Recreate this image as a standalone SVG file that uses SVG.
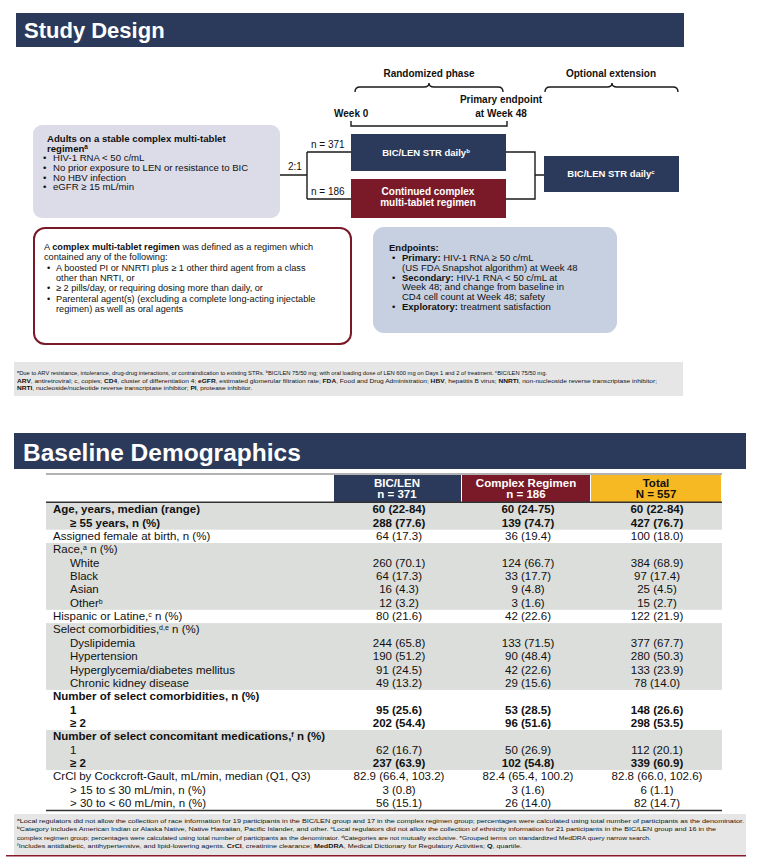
<svg xmlns="http://www.w3.org/2000/svg" width="774" height="868" viewBox="0 0 774 868">
<style>
text { font-family: "Liberation Sans", Arial, sans-serif; fill: #111; }
.b { font-weight: bold; }
.w { fill: #fff; }
.ln { fill: none; stroke: #1a1a1a; stroke-width: 1.4; }
.s10 { font-size: 10px; }
.s96 { font-size: 9.6px; }
.s95 { font-size: 9.5px; }
.s92 { font-size: 9.2px; }
.fn { font-size: 6.2px; }
.tb { font-size: 11.5px; }
.v { text-anchor: middle; }
.c { text-anchor: middle; }
.navy { fill: #2b3a5a; }
.maroon { fill: #7a1a28; }
.gray { fill: #dbdedb; }
</style>
<rect width="774" height="868" fill="#fff"/>

<g id="header-design">
  <rect x="16" y="13" width="668" height="34" class="navy"/>
  <text x="24" y="38" class="b w" font-size="22">Study Design</text>
</g>

<g id="phase-labels">
  <text x="429" y="77" class="b s10 c">Randomized phase</text>
  <text x="611" y="77" class="b s10 c">Optional extension</text>
  <text x="334" y="117" class="b s10">Week 0</text>
  <text x="501" y="103" class="b s10 c">Primary endpoint</text>
  <text x="501" y="117" class="b s10 c">at Week 48</text>
</g>

<g id="eligibility">
  <rect x="33" y="125" width="247" height="93" rx="9" fill="#dcdbe8"/>
  <text x="47" y="141.5" class="b s96">Adults on a stable complex multi-tablet</text>
  <text x="47" y="151.5" class="b s96">regimen<tspan font-size="6.5" baseline-shift="super">a</tspan></text>
  <text x="43" y="161.3" class="s96">•</text><text x="53" y="161.3" class="s96">HIV-1 RNA &lt; 50 c/mL</text>
  <text x="43" y="171" class="s96">•</text><text x="53" y="171" class="s96">No prior exposure to LEN or resistance to BIC</text>
  <text x="43" y="180.7" class="s96">•</text><text x="53" y="180.7" class="s96">No HBV infection</text>
  <text x="43" y="190.4" class="s96">•</text><text x="53" y="190.4" class="s96">eGFR ≥ 15 mL/min</text>
</g>

<g id="arm-biclen">
  <rect x="351" y="134" width="155" height="37" class="navy"/>
  <text x="426" y="156" class="b w s95 c">BIC/LEN STR daily<tspan font-size="6" baseline-shift="super">b</tspan></text>
</g>

<g id="arm-complex">
  <rect x="351" y="179" width="155" height="39" class="maroon"/>
  <text x="428" y="195" class="b w s10 c">Continued complex</text>
  <text x="428" y="206" class="b w s10 c">multi-tablet regimen</text>
</g>

<g id="extension">
  <rect x="544" y="156" width="135" height="36" class="navy"/>
  <text x="611" y="177" class="b w s95 c">BIC/LEN STR daily<tspan font-size="6" baseline-shift="super">c</tspan></text>
</g>

<g id="connectors">
  <path class="ln" d="M355,92 Q355,87 360,87 L424,87 Q429,87 429,83 Q429,87 434,87 L498,87 Q503,87 503,92"/>
  <path class="ln" d="M545,92 Q545,87 550,87 L607,87 Q612,87 612,83 Q612,87 617,87 L673,87 Q678,87 678,92"/>
  <path class="ln" d="M351,121 L351,126 L507,126 L507,121"/>
  <path class="ln" d="M280,175 L307,175 M307,152 L307,199 M307,152 L351,152 M307,199 L351,199"/>
  <path class="ln" d="M506,152 L535,152 L535,199 L506,199 M535,175 L544,175"/>
  <text x="288" y="170" class="s10">2:1</text>
  <text x="311" y="148" class="s10">n = 371</text>
  <text x="311" y="195" class="s10">n = 186</text>
</g>

<g id="definition">
  <rect x="34" y="228" width="317" height="116" rx="11" fill="#fff" stroke="#7a1a28" stroke-width="2"/>
  <text x="44" y="250" class="s92">A <tspan class="b">complex multi-tablet regimen</tspan> was defined as a regimen which</text>
  <text x="44" y="260" class="s92">contained any of the following:</text>
  <text x="47" y="271" class="s92">•</text><text x="56" y="271" class="s92">A boosted PI or NNRTI plus ≥ 1 other third agent from a class</text>
  <text x="56" y="281" class="s92">other than NRTI, or</text>
  <text x="47" y="291" class="s92">•</text><text x="56" y="291" class="s92">≥ 2 pills/day, or requiring dosing more than daily, or</text>
  <text x="47" y="302" class="s92">•</text><text x="56" y="302" class="s92">Parenteral agent(s) (excluding a complete long-acting injectable</text>
  <text x="56" y="312" class="s92">regimen) as well as oral agents</text>
</g>

<g id="endpoints">
  <rect x="373" y="227" width="244" height="106" rx="11" fill="#c6d0e0"/>
  <text x="389" y="251" class="b s95">Endpoints:</text>
  <text x="392" y="261" class="s95">•</text><text x="402" y="261" class="s95"><tspan class="b">Primary:</tspan> HIV-1 RNA ≥ 50 c/mL</text>
  <text x="402" y="270.5" class="s95">(US FDA Snapshot algorithm) at Week 48</text>
  <text x="392" y="280.5" class="s95">•</text><text x="402" y="280.5" class="s95"><tspan class="b">Secondary:</tspan> HIV-1 RNA &lt; 50 c/mL at</text>
  <text x="402" y="290" class="s95">Week 48; and change from baseline in</text>
  <text x="402" y="299.5" class="s95">CD4 cell count at Week 48; safety</text>
  <text x="392" y="309.5" class="s95">•</text><text x="402" y="309.5" class="s95"><tspan class="b">Exploratory:</tspan> treatment satisfaction</text>
</g>

<g id="footnote-design">
  <rect x="14" y="362" width="669" height="34" fill="#e6e6e6"/>
  <text x="17" y="375" class="fn" textLength="530" lengthAdjust="spacingAndGlyphs">ᵃDue to ARV resistance, intolerance, drug-drug interactions, or contraindication to existing STRs. ᵇBIC/LEN 75/50 mg; with oral loading dose of LEN 600 mg on Days 1 and 2 of treatment. ᶜBIC/LEN 75/50 mg.</text>
  <text x="17" y="382.5" class="fn" textLength="640" lengthAdjust="spacingAndGlyphs"><tspan class="b">ARV</tspan>, antiretroviral; c, copies; <tspan class="b">CD4</tspan>, cluster of differentiation 4; <tspan class="b">eGFR</tspan>, estimated glomerular filtration rate; <tspan class="b">FDA</tspan>, Food and Drug Administration; <tspan class="b">HBV</tspan>, hepatitis B virus; <tspan class="b">NNRTI</tspan>, non-nucleoside reverse transcriptase inhibitor;</text>
  <text x="17" y="390" class="fn" textLength="235" lengthAdjust="spacingAndGlyphs"><tspan class="b">NRTI</tspan>, nucleoside/nucleotide reverse transcriptase inhibitor; <tspan class="b">PI</tspan>, protease inhibitor.</text>
</g>

<g id="header-demo">
  <rect x="14" y="433" width="732" height="36" class="navy"/>
  <text x="23" y="461" class="b w" font-size="24.5">Baseline Demographics</text>
</g>

<g id="table">
  <rect x="334" y="475" width="127" height="27" class="navy"/>
  <rect x="462" y="475" width="128" height="27" class="maroon"/>
  <rect x="591" y="475" width="130" height="27" fill="#f6b823"/>
  <text x="397" y="486.5" class="tb b w v">BIC/LEN</text>
  <text x="397" y="498" class="tb b w v">n = 371</text>
  <text x="526" y="486.5" class="tb b w v">Complex Regimen</text>
  <text x="526" y="498" class="tb b w v">n = 186</text>
  <text x="656" y="486.5" class="tb b v">Total</text>
  <text x="656" y="498" class="tb b v">N = 557</text>
  <rect x="46" y="503" width="676" height="26.7" class="gray"/>
  <rect x="46" y="543.05" width="676" height="66.75" class="gray"/>
  <rect x="46" y="623.15" width="676" height="66.75" class="gray"/>
  <rect x="46" y="729.95" width="676" height="40.05" class="gray"/>
  <line x1="46" y1="474" x2="722" y2="474" stroke="#666" stroke-width="1.2"/>
  <line x1="46" y1="502.3" x2="722" y2="502.3" stroke="#333" stroke-width="1.5"/>
  <line x1="46" y1="810.5" x2="722" y2="810.5" stroke="#333" stroke-width="1.5"/>

  <text x="53" y="513.3" class="tb b">Age, years, median (range)</text>
  <text x="399" y="513.3" class="tb b v">60 (22-84)</text><text x="528" y="513.3" class="tb b v">60 (24-75)</text><text x="657" y="513.3" class="tb b v">60 (22-84)</text>
  <text x="70" y="526.65" class="tb b">≥ 55 years, n (%)</text>
  <text x="399" y="526.65" class="tb b v">288 (77.6)</text><text x="528" y="526.65" class="tb b v">139 (74.7)</text><text x="657" y="526.65" class="tb b v">427 (76.7)</text>
  <text x="53" y="540" class="tb">Assigned female at birth, n (%)</text>
  <text x="399" y="540" class="tb v">64 (17.3)</text><text x="528" y="540" class="tb v">36 (19.4)</text><text x="657" y="540" class="tb v">100 (18.0)</text>
  <text x="53" y="553.35" class="tb">Race,<tspan font-size="7" baseline-shift="super">a</tspan> n (%)</text>
  <text x="70" y="566.7" class="tb">White</text>
  <text x="399" y="566.7" class="tb v">260 (70.1)</text><text x="528" y="566.7" class="tb v">124 (66.7)</text><text x="657" y="566.7" class="tb v">384 (68.9)</text>
  <text x="70" y="580.05" class="tb">Black</text>
  <text x="399" y="580.05" class="tb v">64 (17.3)</text><text x="528" y="580.05" class="tb v">33 (17.7)</text><text x="657" y="580.05" class="tb v">97 (17.4)</text>
  <text x="70" y="593.4" class="tb">Asian</text>
  <text x="399" y="593.4" class="tb v">16 (4.3)</text><text x="528" y="593.4" class="tb v">9 (4.8)</text><text x="657" y="593.4" class="tb v">25 (4.5)</text>
  <text x="70" y="606.75" class="tb">Other<tspan font-size="7" baseline-shift="super">b</tspan></text>
  <text x="399" y="606.75" class="tb v">12 (3.2)</text><text x="528" y="606.75" class="tb v">3 (1.6)</text><text x="657" y="606.75" class="tb v">15 (2.7)</text>
  <text x="53" y="620.1" class="tb">Hispanic or Latine,<tspan font-size="7" baseline-shift="super">c</tspan> n (%)</text>
  <text x="399" y="620.1" class="tb v">80 (21.6)</text><text x="528" y="620.1" class="tb v">42 (22.6)</text><text x="657" y="620.1" class="tb v">122 (21.9)</text>
  <text x="53" y="633.45" class="tb">Select comorbidities,<tspan font-size="7" baseline-shift="super">d,e</tspan> n (%)</text>
  <text x="70" y="646.8" class="tb">Dyslipidemia</text>
  <text x="399" y="646.8" class="tb v">244 (65.8)</text><text x="528" y="646.8" class="tb v">133 (71.5)</text><text x="657" y="646.8" class="tb v">377 (67.7)</text>
  <text x="70" y="660.15" class="tb">Hypertension</text>
  <text x="399" y="660.15" class="tb v">190 (51.2)</text><text x="528" y="660.15" class="tb v">90 (48.4)</text><text x="657" y="660.15" class="tb v">280 (50.3)</text>
  <text x="70" y="673.5" class="tb">Hyperglycemia/diabetes mellitus</text>
  <text x="399" y="673.5" class="tb v">91 (24.5)</text><text x="528" y="673.5" class="tb v">42 (22.6)</text><text x="657" y="673.5" class="tb v">133 (23.9)</text>
  <text x="70" y="686.85" class="tb">Chronic kidney disease</text>
  <text x="399" y="686.85" class="tb v">49 (13.2)</text><text x="528" y="686.85" class="tb v">29 (15.6)</text><text x="657" y="686.85" class="tb v">78 (14.0)</text>
  <text x="53" y="700.2" class="tb b">Number of select comorbidities, n (%)</text>
  <text x="70" y="713.55" class="tb b">1</text>
  <text x="399" y="713.55" class="tb b v">95 (25.6)</text><text x="528" y="713.55" class="tb b v">53 (28.5)</text><text x="657" y="713.55" class="tb b v">148 (26.6)</text>
  <text x="70" y="726.9" class="tb b">≥ 2</text>
  <text x="399" y="726.9" class="tb b v">202 (54.4)</text><text x="528" y="726.9" class="tb b v">96 (51.6)</text><text x="657" y="726.9" class="tb b v">298 (53.5)</text>
  <text x="53" y="740.25" class="tb b">Number of select concomitant medications,<tspan font-size="7" baseline-shift="super">f</tspan> n (%)</text>
  <text x="70" y="753.6" class="tb">1</text>
  <text x="399" y="753.6" class="tb v">62 (16.7)</text><text x="528" y="753.6" class="tb v">50 (26.9)</text><text x="657" y="753.6" class="tb v">112 (20.1)</text>
  <text x="70" y="766.95" class="tb b">≥ 2</text>
  <text x="399" y="766.95" class="tb b v">237 (63.9)</text><text x="528" y="766.95" class="tb b v">102 (54.8)</text><text x="657" y="766.95" class="tb b v">339 (60.9)</text>
  <text x="53" y="780.3" class="tb">CrCl by Cockcroft-Gault, mL/min, median (Q1, Q3)</text>
  <text x="399" y="780.3" class="tb v">82.9 (66.4, 103.2)</text><text x="528" y="780.3" class="tb v">82.4 (65.4, 100.2)</text><text x="657" y="780.3" class="tb v">82.8 (66.0, 102.6)</text>
  <text x="70" y="793.65" class="tb">&gt; 15 to ≤ 30 mL/min, n (%)</text>
  <text x="399" y="793.65" class="tb v">3 (0.8)</text><text x="528" y="793.65" class="tb v">3 (1.6)</text><text x="657" y="793.65" class="tb v">6 (1.1)</text>
  <text x="70" y="807" class="tb">&gt; 30 to &lt; 60 mL/min, n (%)</text>
  <text x="399" y="807" class="tb v">56 (15.1)</text><text x="528" y="807" class="tb v">26 (14.0)</text><text x="657" y="807" class="tb v">82 (14.7)</text>
</g>

<g id="footnote-demo">
  <rect x="14" y="814" width="732" height="41" fill="#e6e6e6"/>
  <line x1="6" y1="855.8" x2="746" y2="855.8" stroke="#8a1a2a" stroke-width="1.6"/>
  <text x="17" y="823" class="fn" textLength="727" lengthAdjust="spacingAndGlyphs">ᵃLocal regulators did not allow the collection of race information for 19 participants in the BIC/LEN group and 17 in the complex regimen group; percentages were calculated using total number of participants as the denominator.</text>
  <text x="17" y="831.3" class="fn" textLength="699" lengthAdjust="spacingAndGlyphs">ᵇCategory includes American Indian or Alaska Native, Native Hawaiian, Pacific Islander, and other. ᶜLocal regulators did not allow the collection of ethnicity information for 21 participants in the BIC/LEN group and 16 in the</text>
  <text x="17" y="839.6" class="fn" textLength="634" lengthAdjust="spacingAndGlyphs">complex regimen group; percentages were calculated using total number of participants as the denominator. ᵈCategories are not mutually exclusive. ᵉGrouped terms on standardized MedDRA query narrow search.</text>
  <text x="17" y="848" class="fn" textLength="505" lengthAdjust="spacingAndGlyphs">ᶠIncludes antidiabetic, antihypertensive, and lipid-lowering agents. <tspan class="b">CrCl</tspan>, creatinine clearance; <tspan class="b">MedDRA</tspan>, Medical Dictionary for Regulatory Activities; <tspan class="b">Q</tspan>, quartile.</text>
</g>
</svg>
